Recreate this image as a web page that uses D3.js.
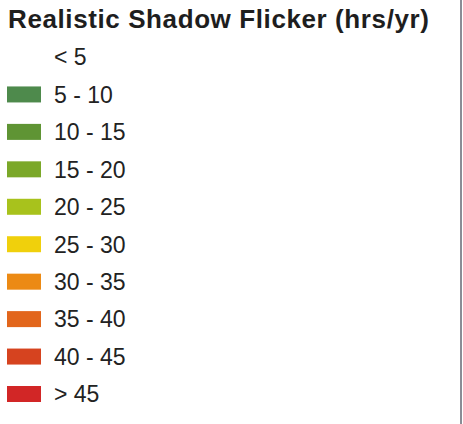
<!DOCTYPE html>
<html>
<head>
<meta charset="utf-8">
<script src="https://cdn.jsdelivr.net/npm/d3@7"></script>
<style>
  body { margin: 0; background: #fff; }
  svg { display: block; }
</style>
</head>
<body>
<div id="legend"></div>
<script>
const width = 463;
const height = 424;

const title = "Realistic Shadow Flicker (hrs/yr)";
const classes = ["< 5", "5 - 10", "10 - 15", "15 - 20", "20 - 25", "25 - 30", "30 - 35", "35 - 40", "40 - 45", "> 45"];
const swatchColors = [null, "#4e8a4c", "#5f9434", "#7ba829", "#a8c21c", "#f0d00c", "#ec8a14", "#e2661c", "#d6431f", "#d22626"];

const svg = d3.select("#legend")
    .append("svg")
    .attr("width", width)
    .attr("height", height);

// right frame edge
svg.append("line")
    .attr("x1", 461).attr("x2", 461)
    .attr("y1", 0).attr("y2", height)
    .attr("stroke", "#8a8d96")
    .attr("stroke-width", 2);

svg.append("text")
    .attr("x", 8)
    .attr("y", 28)
    .attr("font-family", "Liberation Sans, Arial, sans-serif")
    .attr("font-weight", "bold")
    .attr("font-size", "26px")
    .attr("letter-spacing", "0.6px")
    .attr("fill", "#1e1e1e")
    .text(title);

const y = d3.scalePoint()
    .domain(classes)
    .range([57, 394]);

const row = svg.selectAll(".row")
    .data(classes.map((c, i) => ({ label: c, color: swatchColors[i] })))
    .enter().append("g")
    .attr("class", "row")
    .attr("transform", d => `translate(0,${y(d.label)})`);

row.filter(d => d.color)
    .append("rect")
    .attr("x", 7)
    .attr("y", -8)
    .attr("width", 34)
    .attr("height", 16)
    .attr("fill", d => d.color);

row.append("text")
    .attr("x", 54)
    .attr("y", 8.3)
    .attr("font-family", "Liberation Sans, Arial, sans-serif")
    .attr("font-size", "23px")
    .attr("fill", "#222")
    .text(d => d.label);
</script>
</body>
</html>
